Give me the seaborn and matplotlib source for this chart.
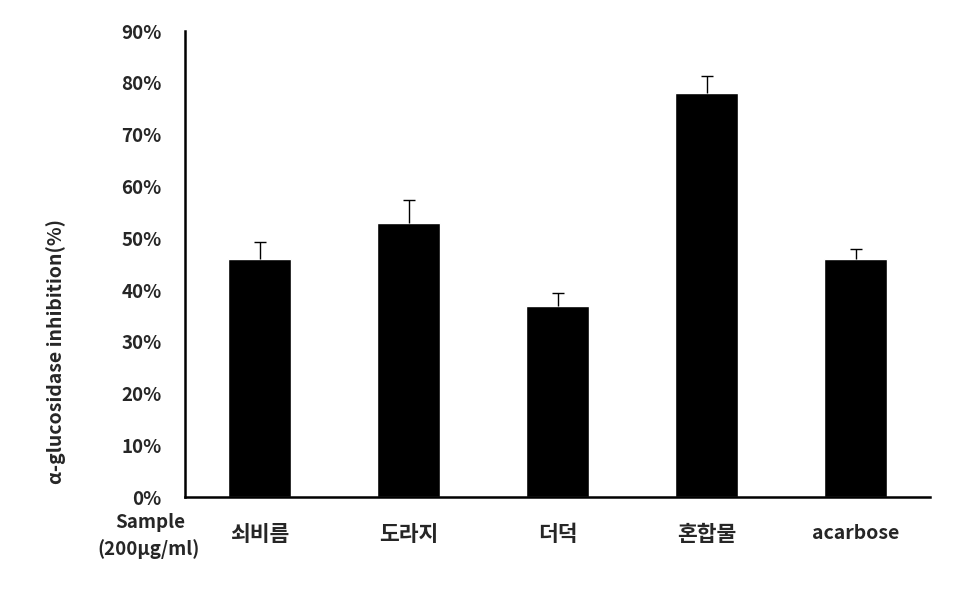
import matplotlib
matplotlib.use('Agg')
import matplotlib.pyplot as plt
import seaborn as sns
import numpy as np
import pandas as pd

sns.set_style('white')
plt.rcParams['font.family'] = ['Noto Sans CJK KR', 'DejaVu Sans']
plt.rcParams['font.weight'] = 'bold'

# Data
samples = ['쇠비름', '도라지', '더덕', '혼합물', 'acarbose']
inhibition = [46.0, 53.0, 37.0, 78.0, 46.0]  # %
err_up = [3.2, 4.3, 2.5, 3.3, 2.0]
yticks = np.arange(0, 91, 10)

df = pd.DataFrame({'sample': samples, 'inhibition': inhibition})

fig = plt.figure(figsize=(9.54, 5.99), dpi=100)
ax = fig.add_axes([0.194, 0.170, 0.781, 0.778])

sns.barplot(data=df, x='sample', y='inhibition', color='black',
            width=0.42, saturation=1, errorbar=None, ax=ax)
xs = np.arange(len(samples))
_, caps, _ = ax.errorbar(xs, inhibition, yerr=[np.zeros(len(xs)), err_up], fmt='none',
                         ecolor='black', elinewidth=1.0, capsize=4.5, capthick=1.0)
caps[0].set_visible(False)  # only the upper cap

ax.set_xlim(-0.5, len(samples) - 0.5)
ax.set_ylim(0, 90)
ax.set_yticks(yticks)
ax.set_yticklabels([f'{v}%' for v in yticks], fontsize=13.5, fontweight='bold')

# category labels, ticks at bin edges
ax.set_xticks(xs)
ax.set_xticklabels(samples, fontsize=15.5, fontweight='bold')
for lbl in ax.get_xticklabels():
    if lbl.get_text().isascii():
        lbl.set_fontsize(14)
ax.set_xticks(np.arange(-0.5, len(samples), 1), minor=True)
ax.tick_params(axis='x', which='major', length=0, pad=19)
ax.tick_params(axis='x', which='minor', direction='in', length=5, width=1.5)
ax.tick_params(axis='y', direction='in', length=6.5, width=1.8, pad=17)

ax.set_xlabel('')
ax.set_ylabel('α-glucosidase inhibition(%)', fontsize=14, fontweight='bold')
ax.yaxis.set_label_coords(-0.160, 0.313)

for s in ['top', 'right']:
    ax.spines[s].set_visible(False)
for s in ['left', 'bottom']:
    ax.spines[s].set_linewidth(1.8)
    ax.spines[s].set_color('black')

fig.text(150 / 954, 1 - 523 / 599, 'Sample', ha='center', va='center',
         fontsize=13.5, fontweight='bold')
fig.text(149 / 954, 1 - 549 / 599, '(200μg/ml)', ha='center', va='center',
         fontsize=13.5, fontweight='bold')

fig.savefig('out.png', dpi=100)
